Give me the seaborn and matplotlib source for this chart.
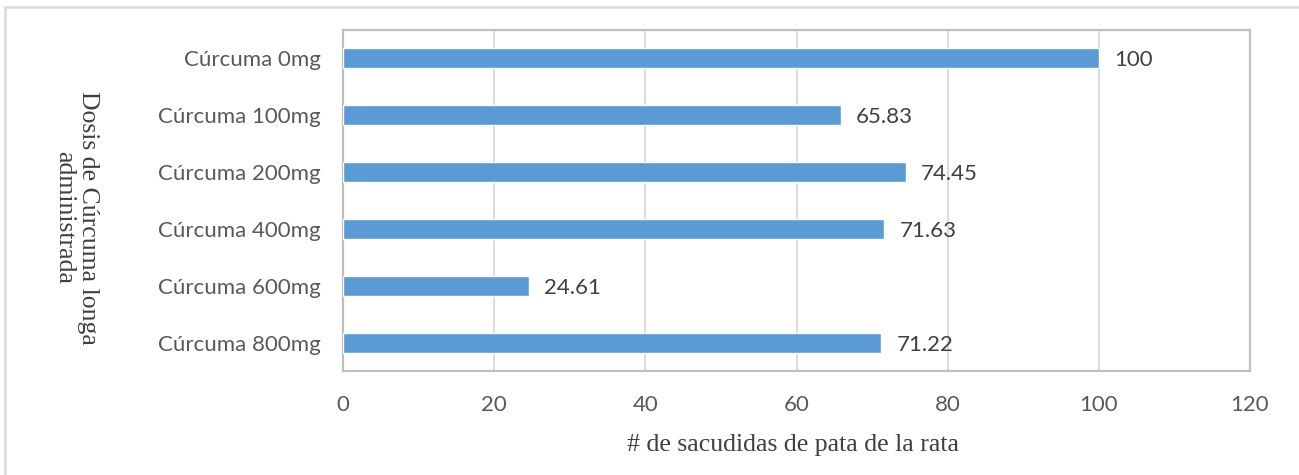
import matplotlib
matplotlib.use("Agg")
import matplotlib.pyplot as plt
import seaborn as sns
import pandas as pd
from matplotlib.patches import Rectangle

# Dose groups and the measured paw-shake counts
doses = ["Cúrcuma 0mg", "Cúrcuma 100mg", "Cúrcuma 200mg",
         "Cúrcuma 400mg", "Cúrcuma 600mg", "Cúrcuma 800mg"]
sacudidas = [100, 65.83, 74.45, 71.63, 24.61, 71.22]
x_ticks = [0, 20, 40, 60, 80, 100, 120]

df = pd.DataFrame({"dosis": doses, "sacudidas": sacudidas})

sns.set_theme(style="white")
plt.rcParams["font.family"] = ["Lato", "DejaVu Sans"]

W, H = 1299, 475
fig = plt.figure(figsize=(W / 100, H / 100), dpi=100)
ax = fig.add_axes([343 / W, 1 - 371 / H, (1250 - 343) / W, (371 - 30) / H])

sns.barplot(data=df, x="sacudidas", y="dosis", orient="h", color="#5B9BD5",
            saturation=1, width=0.35, ax=ax, zorder=3)

ax.set_xlim(0, 120)
ax.set_ylim(5.5, -0.5)
ax.set_xticks(x_ticks)
ax.set_xticklabels([str(t) for t in x_ticks])
ax.xaxis.grid(True, color="#d9d9d9", linewidth=1.3, zorder=0)
ax.yaxis.grid(False)
ax.set_axisbelow(True)

for s in ax.spines.values():
    s.set_visible(True)
    s.set_color("#bfbfbf")
    s.set_linewidth(1.6)

ax.tick_params(axis="both", length=0, labelsize=16, labelcolor="#595959")
ax.tick_params(axis="x", pad=17)
ax.tick_params(axis="y", pad=16)

value_labels = ax.bar_label(ax.containers[0],
                            labels=[f"{v:g}" for v in sacudidas],
                            padding=11, fontsize=16, color="#404040")
for t in value_labels:
    t.set_va("center_baseline")

serif = ["Liberation Serif", "DejaVu Serif"]
ax.set_xlabel("# de sacudidas de pata de la rata", family=serif,
              fontsize=18.5, color="#404040")
ax.xaxis.set_label_coords(0.4956, -0.217)
ax.xaxis.label.set_va("center")

ax.set_ylabel("Dosis de Cúrcuma longa\nadministrada", family=serif,
              fontsize=18.5, color="#404040", rotation=270,
              multialignment="center", linespacing=1.1)
ax.yaxis.set_label_coords(-0.294, 0.449)
ax.yaxis.label.set_va("center")
ax.yaxis.label.set_ha("center")

# Light chart-area border
fig.patches.append(Rectangle((5.5 / W, -0.05), 1.1, 1.05 - 7 / H,
                             transform=fig.transFigure, fill=False,
                             edgecolor="#d9d9d9", linewidth=1.8, zorder=0))

fig.savefig("out.png", dpi=100, facecolor="white")
